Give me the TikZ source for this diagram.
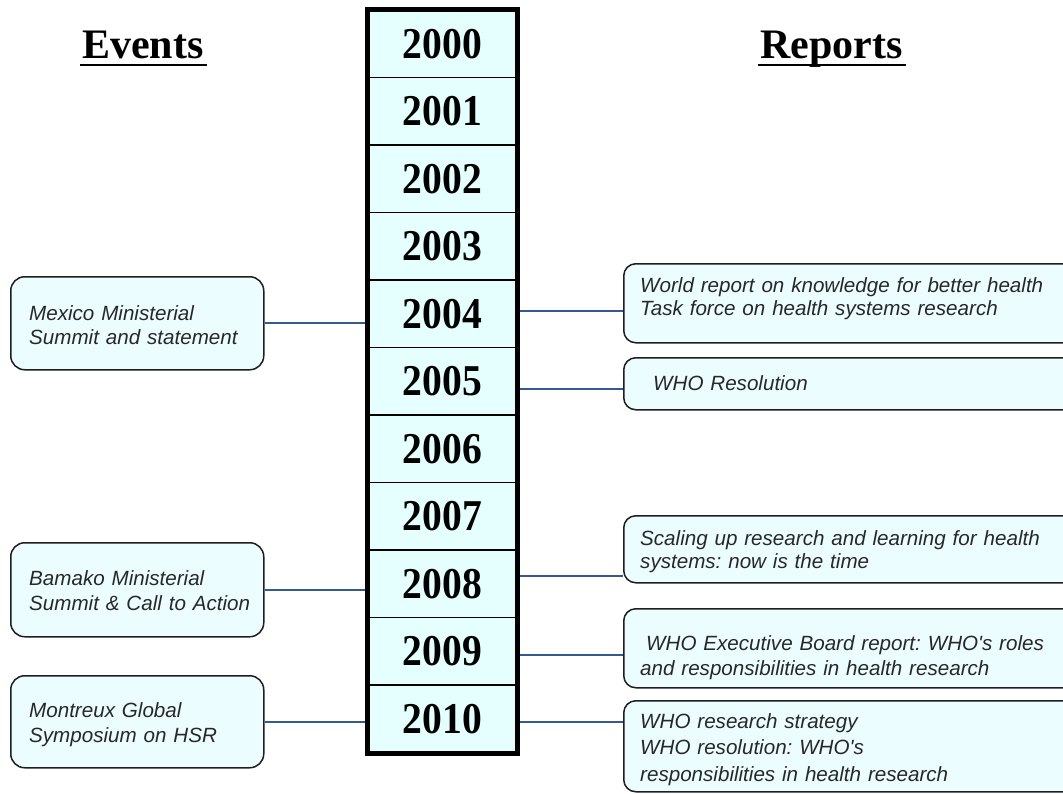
\documentclass[tikz,border=0pt]{standalone}
\usepackage{fontspec}
\setmainfont{Liberation Serif}
\newfontfamily\yearfont[FakeStretch=0.9]{Liberation Serif}
\newfontfamily\boxfont{Liberation Sans}
\definecolor{cellfill}{RGB}{229,255,255}
\definecolor{boxfill}{RGB}{236,253,255}
\definecolor{boxline}{RGB}{30,30,30}
\definecolor{conncol}{RGB}{52,90,145}
\definecolor{txtcol}{RGB}{40,40,40}
\frenchspacing
\tikzset{
  cell/.style={draw=black, line width=1.3, fill=cellfill, minimum width=149, minimum height=67.5,
    inner sep=0, font=\yearfont\bfseries\fontsize{44}{44}\selectfont},
  titletext/.style={inner sep=0, anchor=base west, font=\bfseries\fontsize{42}{42}\selectfont},
  evbox/.style={draw=boxline, line width=1.5, fill=boxfill, rounded corners=14, minimum width=253,
    anchor=north west, inner sep=0},
  rbox/.style={draw=boxline, line width=1.5, fill=boxfill, rounded corners=12, minimum width=480,
    anchor=north west, inner sep=0},
  boxtext/.style={inner sep=0, anchor=base west, align=left, text width=420, text=txtcol,
    font=\boxfont\itshape\fontsize{20.6}{24.5}\selectfont},
  conn/.style={draw=conncol, line width=2},
  uline/.style={line width=2.6}
}
\begin{document}
\begin{tikzpicture}[x=1pt,y=-1pt]
\clip (0,0) rectangle (1063,793);
\fill[white] (0,0) rectangle (1063,793);

% titles
\node[titletext] (ev) at (82,58) {Events};
\draw[uline] ([xshift=-2,yshift=-7]ev.base west) -- ([xshift=3,yshift=-7]ev.base east);
\node[titletext] (rp) at (760,58) {Reports};
\draw[uline] ([xshift=-2,yshift=-7]rp.base west) -- ([xshift=3,yshift=-7]rp.base east);

% event boxes
\node[evbox, minimum height=93] (mex) at (10,276) {};
\node[boxtext] (mext) at (29,320) {Mexico Ministerial\\Summit and statement};
\node[evbox, minimum height=94] (bam) at (10,542) {};
\node[boxtext, font=\boxfont\itshape\fontsize{20.6}{25}\selectfont] (bamt) at (29,585) {Bamako Ministerial\\Summit \& Call to Action};
\node[evbox, minimum height=92] (mon) at (10,675) {};
\node[boxtext, font=\boxfont\itshape\fontsize{20.6}{25}\selectfont] (mont) at (29,717) {Montreux Global\\Symposium on HSR};

% report boxes
\node[rbox, minimum height=79] (r2004) at (623,263) {};
\node[boxtext, font=\boxfont\itshape\fontsize{20.6}{23.5}\selectfont] (r2004t) at (640,292) {World report on knowledge for better health\\Task force on health systems research};
\node[rbox, minimum height=52] (r2005) at (623,357) {};
\node[boxtext] (r2005t) at (653,390) {WHO Resolution};
\node[rbox, minimum height=67] (r2008) at (623,515) {};
\node[boxtext, font=\boxfont\itshape\fontsize{20.6}{23.5}\selectfont] (r2008t) at (640,545) {Scaling up research and learning for health\\systems: now is the time};
\node[rbox, minimum height=79] (r2009) at (623,608) {};
\node[boxtext, font=\boxfont\itshape\fontsize{20.6}{25}\selectfont] (r2009t) at (640,650) {\hspace*{6pt}WHO Executive Board report: WHO's roles\\and responsibilities in health research};
\node[rbox, minimum height=91] (r2010) at (623,700) {};
\node[boxtext, font=\boxfont\itshape\fontsize{20.6}{26.5}\selectfont] (r2010t) at (640,728) {WHO research strategy\\WHO resolution: WHO's\\responsibilities in health research};

% year cells
\foreach \yr [count=\i from 0] in {2000,2001,2002,2003,2004,2005,2006,2007,2008,2009,2010}
  \node[cell] (y\yr) at (442.5,{43.75+67.5*\i}) {\yr};

% connector levels on the right
\coordinate (c2004) at (570,311);
\coordinate (c2005) at (570,389);
\coordinate (c2008) at (570,576);
\coordinate (c2009) at (570,655);
\coordinate (c2010) at (570,722);

% connectors
\draw[conn] (mex.east) -- (mex.east -| y2004.west);
\draw[conn] (bam.east) -- (bam.east -| y2008.west);
\draw[conn] (mon.east) -- (mon.east -| y2010.west);
\draw[conn] (y2004.east |- c2004) -- (r2004.west |- c2004);
\draw[conn] (y2005.east |- c2005) -- (r2005.west |- c2005);
\draw[conn] (y2008.east |- c2008) -- (r2008.west |- c2008);
\draw[conn] (y2009.east |- c2009) -- (r2009.west |- c2009);
\draw[conn] (y2010.east |- c2010) -- (r2010.west |- c2010);

% outer frame of the year column
\draw[line width=5] (y2000.north west) rectangle (y2010.south east);
\end{tikzpicture}
\end{document}
